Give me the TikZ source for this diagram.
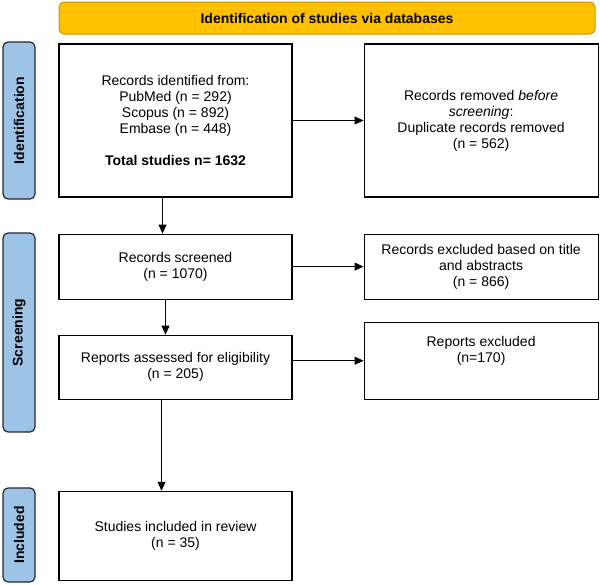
\documentclass[tikz,border=0pt]{standalone}
\usepackage{fontspec}
\setmainfont{Liberation Sans}
\usetikzlibrary{positioning, arrows.meta}

\definecolor{hdrgold}{HTML}{FFC000}
\definecolor{hdrline}{HTML}{C99700}
\definecolor{stageblue}{HTML}{9DC3E6}

\begin{document}
\begin{tikzpicture}[
    x=1pt, y=-1pt,
    node distance=36pt and 71pt,
    every node/.style={font=\fontsize{14}{16}\selectfont},
    header/.style={rectangle, draw=hdrline, fill=hdrgold, line width=1pt, rounded corners=5pt, minimum width=536pt, minimum height=32pt, font=\fontsize{14}{16}\selectfont\bfseries},
    stage/.style={rectangle, draw=black!85, fill=stageblue, line width=1.2pt, rounded corners=5pt, rotate=90, minimum height=32pt, font=\fontsize{14}{16}\selectfont\bfseries},
    flowbox/.style={rectangle, draw, line width=1.1pt, align=center, minimum width=233pt},
    sidebox/.style={rectangle, draw, line width=1.1pt, align=center, minimum width=234pt},
    arrow_flow/.style={-{Triangle[length=9pt, width=8pt]}, line width=0.9pt}
]
\useasboundingbox (0,0) rectangle (600,584);

% header and stage labels
\node[header] (hdr) at (327,18) {Identification of studies via databases};
\node[stage, minimum width=157pt] (stIdent) at (19,120.5) {Identification};
\node[stage, minimum width=199pt] (stScreen) at (19,332.5) {Screening};
\node[stage, minimum width=94pt] (stIncl) at (19,535) {Included};

% main column
\node[flowbox, minimum height=153pt] (ident) at (175.5,120.5) {Records identified from:\\
    PubMed (n = 292)\\ Scopus (n = 892)\\ Embase (n = 448)\\[16pt]
    \textbf{Total studies n= 1632}};
\node[flowbox, minimum height=65pt, below=of ident] (screened) {Records screened\\(n = 1070)};
\node[flowbox, minimum height=64pt, below=35pt of screened] (assessed) {Reports assessed for eligibility\\(n = 205)};
\node[flowbox, minimum height=89pt, below=91pt of assessed] (included) {Studies included in review\\(n = 35)};

% side column
\node[sidebox, minimum height=153pt, right=of ident] (removed) {Records removed \textit{before}\\
    \textit{screening}:\\ Duplicate records removed\\(n = 562)};
\node[sidebox, minimum height=65pt, right=of screened] (excluded) {Records excluded based on title\\and abstracts\\(n = 866)};
\node[sidebox, minimum height=77pt, right=71pt of assessed.south east, anchor=south west, text depth=22pt] (repexcl) {Reports excluded\\(n=170)};

% connectors
\draw[arrow_flow] ([xshift=-13pt]ident.south) -- ([xshift=-13pt]screened.north);
\draw[arrow_flow] ([xshift=-10pt]screened.south) -- ([xshift=-10pt]assessed.north);
\draw[arrow_flow] ([xshift=-14pt]assessed.south) -- ([xshift=-14pt]included.north);
\draw[arrow_flow] (ident) -- (removed);
\draw[arrow_flow] (screened) -- (excluded);
\draw[arrow_flow] (assessed.east |- repexcl.west) -- (repexcl.west);

\end{tikzpicture}
\end{document}
